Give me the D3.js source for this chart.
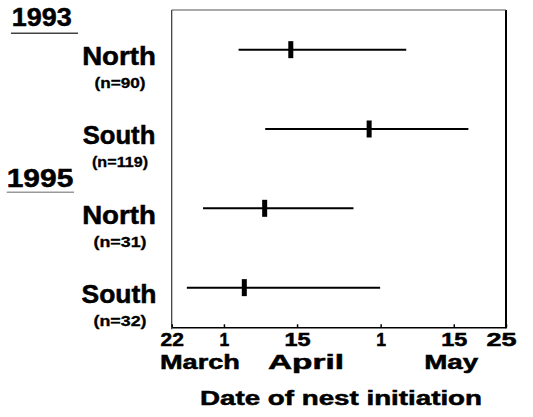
<!DOCTYPE html>
<html><head><meta charset="utf-8">
<script src="https://cdn.jsdelivr.net/npm/d3@7"></script>
<style>
body{margin:0;background:#fff}
svg{display:block}
text{font-family:"Liberation Sans",Arial,Helvetica,sans-serif;font-weight:bold;fill:#000;stroke:#000;stroke-width:0.5px}
</style>
</head><body><svg id="c" width="533" height="417"></svg>
<script>
// ---- data ----
const years = ["1993", "1995"];
const groups = ["1993 North", "1993 South", "1995 North", "1995 South"];
const regions = ["North", "South", "North", "South"];
const sampleSizes = ["(n=90)", "(n=119)", "(n=31)", "(n=32)"];
// day of year (1 Jan = 1): 22 March = 81, 1 April = 91, ...
const rangeStart = [93.8, 98.9, 87.0, 83.9];
const medianDay  = [103.8, 118.8, 98.8, 94.9];
const rangeEnd   = [125.9, 137.8, 115.8, 120.9];
const tickDays   = [81, 91, 105, 121, 135, 145];
const tickLabels = ["22", "1", "15", "1", "15", "25"];
const monthNames = ["March", "April", "May"];
const monthDays  = [86.4, 106.7, 134.5];
const xTitle = "Date of nest initiation";

// ---- layout ----
const L = 171.7, R = 506, T = 10, B = 327.3;
const svg = d3.select("#c");
const x = d3.scaleLinear().domain([81, 145]).range([L, R]);
const y = d3.scalePoint().domain(groups).range([T, B]).padding(0.5);

function stretch(sel, w) {
  if (w) sel.attr("textLength", w).attr("lengthAdjust", "spacingAndGlyphs");
  return sel;
}

// frame
svg.append("line").attr("x1", L).attr("x2", L).attr("y1", T).attr("y2", B + 2)
  .attr("stroke", "#333").attr("stroke-width", 1.2);
svg.append("line").attr("x1", R).attr("x2", R).attr("y1", T).attr("y2", B + 1)
  .attr("stroke", "#000").attr("stroke-width", 2);
svg.append("line").attr("x1", L).attr("x2", R).attr("y1", T).attr("y2", T)
  .attr("stroke", "#555").attr("stroke-width", 1.2);

// x axis
const ax = svg.append("g").attr("transform", `translate(0,${B})`)
  .call(d3.axisBottom(x).tickValues(tickDays).tickFormat((d, i) => tickLabels[i])
    .tickSizeInner(-3).tickSizeOuter(0));
ax.select(".domain").attr("stroke", "#000").attr("stroke-width", 1.5);
ax.selectAll(".tick line").attr("stroke", "#000").attr("stroke-width", 1.5);
const tickW = [23.3, null, 26, null, 26, 30];
ax.selectAll(".tick text")
  .attr("y", 19).attr("dy", 0)
  .attr("dx", (d, i) => i === tickDays.length - 1 ? -5 : 0)
  .style("font-size", "17.5px").attr("fill", "#000")
  .each(function (d, i) { stretch(d3.select(this), tickW[i]); });

// month labels
const monthW = [80, 76, 54];
monthNames.forEach((m, i) => {
  stretch(svg.append("text").attr("x", x(monthDays[i])).attr("y", 368.5)
    .attr("text-anchor", "middle").style("font-size", "20px").text(m), monthW[i]);
});

// axis title
stretch(svg.append("text").attr("x", 341).attr("y", 405).attr("text-anchor", "middle")
  .style("font-size", "20px").text(xTitle), 282);

// year labels with underline
const yearPos = [{x: 11.7, y: 26, w: 60, ux1: 11, ux2: 78, uy: 33.3, uc: "#444"},
                 {x: 6.7, y: 187.3, w: 66.6, ux1: 6.7, ux2: 74, uy: 192.3, uc: "#999"}];
years.forEach((yr, i) => {
  const p = yearPos[i];
  stretch(svg.append("text").attr("x", p.x).attr("y", p.y).style("font-size", "26px").text(yr), p.w);
  svg.append("line").attr("x1", p.ux1).attr("x2", p.ux2).attr("y1", p.uy).attr("y2", p.uy)
    .attr("stroke", p.uc).attr("stroke-width", 1.5);
});

// row labels
const nameW = [73.7, 72.7, 73.7, 75];
const nW = [51, 56, 53, 53];
groups.forEach((g, i) => {
  stretch(svg.append("text").attr("x", 119).attr("y", y(g) + 15.5)
    .attr("text-anchor", "middle").style("font-size", "25px").text(regions[i]), nameW[i]);
  stretch(svg.append("text").attr("x", 120).attr("y", y(g) + 38.5)
    .attr("text-anchor", "middle").style("font-size", "14px").style("stroke-width", "0.3px")
    .text(sampleSizes[i]), nW[i]);
});

// ranges and medians
const rows = svg.append("g").selectAll("g").data(groups).join("g");
rows.append("line")
  .attr("x1", (d, i) => x(rangeStart[i])).attr("x2", (d, i) => x(rangeEnd[i]))
  .attr("y1", d => y(d)).attr("y2", d => y(d))
  .attr("stroke", "#000").attr("stroke-width", 2);
rows.append("rect")
  .attr("x", (d, i) => x(medianDay[i]) - 2.5).attr("width", 5)
  .attr("y", d => y(d) - 8.5).attr("height", 17)
  .attr("fill", "#000");
</script>
</body></html>
